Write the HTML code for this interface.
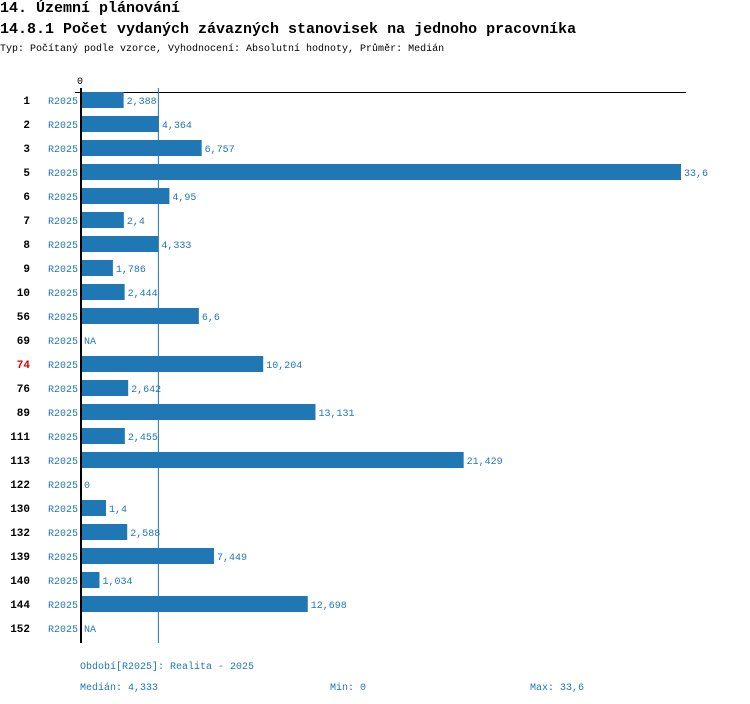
<!DOCTYPE html>
<html><head><meta charset="utf-8"><style>
body{margin:0;background:#fff;width:750px;height:704px;overflow:hidden;font-family:"Liberation Mono",monospace}
.t{position:absolute;left:0;white-space:nowrap;color:#000}
</style></head><body>
<div class="t" style="top:0;font-size:15px;font-weight:bold">14. Územní plánování</div>
<div class="t" style="top:21px;font-size:15px;font-weight:bold">14.8.1 Počet vydaných závazných stanovisek na jednoho pracovníka</div>
<div class="t" style="top:44px;font-size:10px">Typ: Počítaný podle vzorce, Vyhodnocení: Absolutní hodnoty, Průměr: Medián</div>
<svg id="c" width="750" height="704" style="position:absolute;left:0;top:0" font-family="Liberation Mono, monospace"></svg>
<script>
const categories=["1","2","3","5","6","7","8","9","10","56","69","74","76","89","111","113","122","130","132","139","140","144","152"];
const values=[2.388,4.364,6.757,33.6,4.95,2.4,4.333,1.786,2.444,6.6,null,10.204,2.642,13.131,2.455,21.429,0,1.4,2.588,7.449,1.034,12.698,null];
const valueLabels=["2,388","4,364","6,757","33,6","4,95","2,4","4,333","1,786","2,444","6,6","NA","10,204","2,642","13,131","2,455","21,429","0","1,4","2,588","7,449","1,034","12,698","NA"];
const highlighted=["74"];
const median=4.333, minV=0, maxV=33.6;
const svg=document.getElementById('c');const NS='http://www.w3.org/2000/svg';
const x0=81, sc=(681-81)/33.6;
const x=v=>x0+v*sc;
const y=i=>100+i*24;
function mk(t,a,txt){const e=document.createElementNS(NS,t);for(const k in a)e.setAttribute(k,a[k]);if(txt!=null)e.textContent=txt;svg.appendChild(e);return e;}
let e;
e=mk('line',{x1:75,x2:686,y1:92.5,y2:92.5,stroke:'#000','stroke-width':1});


e=mk('text',{x:80,y:84,'font-size':10,'text-anchor':'middle',fill:'#000'},'0');


e=mk('line',{x1:x(median),x2:x(median),y1:88,y2:643,stroke:'#1f77b4','stroke-width':1});


categories.forEach((c,i)=>{
 const cy=y(i);
 let t=mk('text',{x:30,y:cy+4,'font-size':11,'font-weight':'bold','text-anchor':'end',fill:highlighted.includes(c)?'#e00000':'#000'},c);
 
 
 t=mk('text',{x:78,y:cy+4,'font-size':10,'text-anchor':'end',fill:'#1f77b4'},'R2025');
 
 
 const v=values[i];
 if(v!=null&&v>0){const b=mk('rect',{x:x0,y:cy-8,width:x(v)-x0,height:16,fill:'#1f77b4'});
  
  }
 t=mk('text',{x:(v==null?x0:x(v))+3,y:cy+4,'font-size':10,fill:'#1f77b4'},valueLabels[i]);
 
 
});
e=mk('line',{x1:81,x2:81,y1:88,y2:643,stroke:'#000','stroke-width':2});


const f=[[80,669,'Období[R2025]: Realita - 2025','period-legend'],[80,690,'Medián: '+median.toString().replace('.',','),'median-stat'],[330,690,'Min: '+minV,'min-stat'],[530,690,'Max: '+maxV.toString().replace('.',','),'max-stat']];
f.forEach(a=>{const t=mk('text',{x:a[0],y:a[1],'font-size':10,fill:'#1f77b4'},a[2]);
 
 });
</script>
</body></html>
